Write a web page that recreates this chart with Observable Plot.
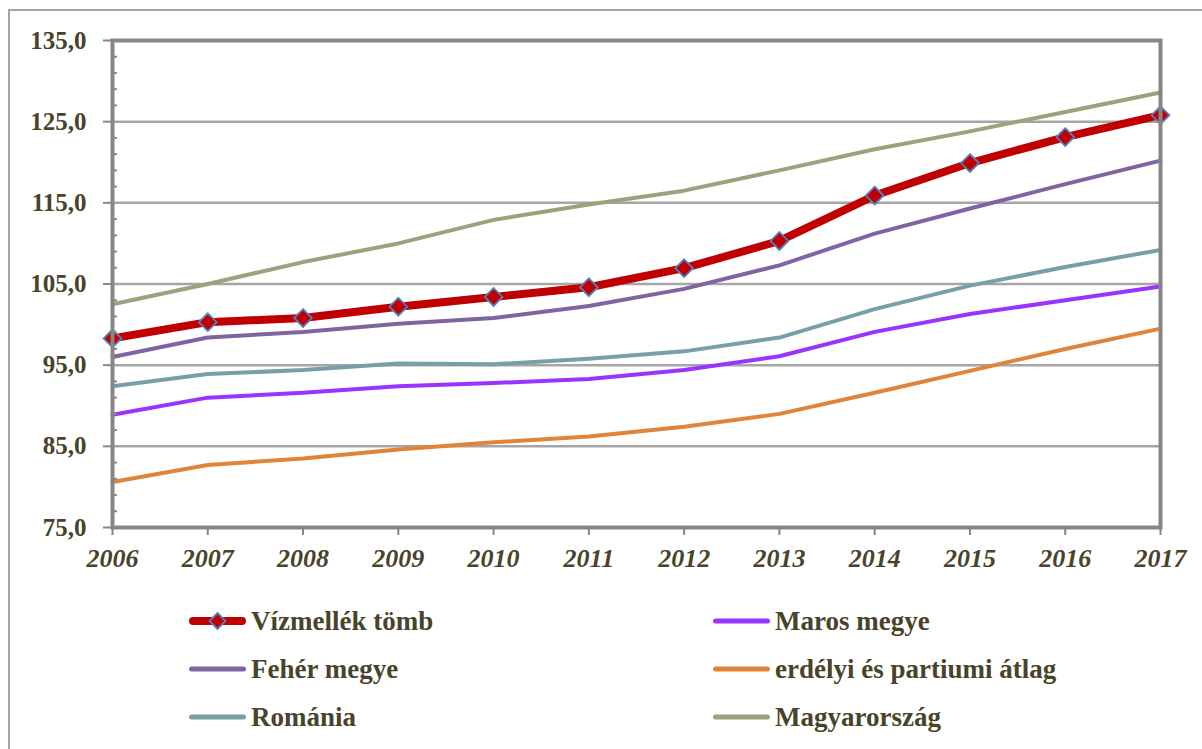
<!DOCTYPE html>
<html>
<head>
<meta charset="utf-8">
<script src="https://cdn.jsdelivr.net/npm/d3@7"></script>
<script src="https://cdn.jsdelivr.net/npm/@observablehq/plot@0.6"></script>
<style>
  html, body { margin: 0; padding: 0; background: #fff; }
  body { width: 1202px; height: 749px; overflow: hidden; position: relative; font-family: 'Liberation Serif'; }
  #outer { position: absolute; left: 8px; top: 9px; width: 1400px; height: 900px; border-left: 2px solid #a3a3a3; border-top: 2px solid #a3a3a3; pointer-events: none; }
  #chart svg { display: block; }
  #legend { position: absolute; left: 0; top: 580px; width: 1202px; }
  .item { position: absolute; height: 48px; display: flex; align-items: center; color: #494429; font-weight: bold; font-size: 27px; white-space: nowrap; font-family: 'Liberation Serif'; }
  .item svg { display: block; margin-right: 3px; }
</style>
</head>
<body>
<div id="chart"></div>
<div id="legend"></div>
<div id="outer"></div>
<script>
const years = [2006, 2007, 2008, 2009, 2010, 2011, 2012, 2013, 2014, 2015, 2016, 2017];
const seriesNames = ["Vízmellék tömb", "Maros megye", "Fehér megye", "erdélyi és partiumi átlag", "Románia", "Magyarország"];
const vizmellek = [98.3, 100.3, 100.8, 102.2, 103.4, 104.6, 106.95, 110.3, 115.9, 119.9, 123.1, 125.8];
const maros     = [88.9, 91.0, 91.6, 92.4, 92.8, 93.3, 94.4, 96.1, 99.1, 101.3, 103.0, 104.7];
const feher     = [96.0, 98.4, 99.1, 100.1, 100.8, 102.3, 104.4, 107.3, 111.2, 114.3, 117.3, 120.2];
const erdelyi   = [80.6, 82.7, 83.5, 84.6, 85.5, 86.2, 87.4, 89.0, 91.6, 94.3, 97.0, 99.5];
const romania   = [92.4, 93.9, 94.4, 95.2, 95.1, 95.8, 96.7, 98.4, 101.9, 104.8, 107.1, 109.2];
const magyar    = [102.5, 105.0, 107.7, 110.0, 112.9, 114.8, 116.5, 119.0, 121.6, 123.8, 126.2, 128.6];
const seriesColors = ["#C00000", "#9933FF", "#8064A2", "#E0843A", "#789FA7", "#98A47E"];
const yTicks = [75, 85, 95, 105, 115, 125, 135];
const yGrid = [85, 95, 105, 115, 125];
const yMinor = d3.range(75, 135.001, 2).filter(v => !yTicks.includes(v));

const valuesByName = {
  "Vízmellék tömb": vizmellek,
  "Maros megye": maros,
  "Fehér megye": feher,
  "erdélyi és partiumi átlag": erdelyi,
  "Románia": romania,
  "Magyarország": magyar
};
const rows = seriesNames.flatMap(name => years.map((year, i) => ({name, year, value: valuesByName[name][i]})));
const colorOf = Object.fromEntries(seriesNames.map((n, i) => [n, seriesColors[i]]));
const thinNames = ["Magyarország", "Románia", "erdélyi és partiumi átlag", "Maros megye", "Fehér megye"];
const redRows = rows.filter(d => d.name === "Vízmellék tömb");

const textColor = "#494429";
const axisGray = "#868686";
const serif = "Liberation Serif";

const marks = [
  Plot.ruleY(yGrid, {stroke: "#A6A6A6", strokeWidth: 2.5}),
  ...thinNames.map(n => Plot.line(rows.filter(d => d.name === n), {
    x: "year", y: "value", stroke: colorOf[n], strokeWidth: 4, curve: "linear"
  })),
  Plot.line(redRows, {x: "year", y: "value", stroke: colorOf["Vízmellék tömb"], strokeWidth: 8, strokeLinejoin: "round"}),
  Plot.dot(redRows, {x: "year", y: "value", symbol: "diamond2", r: 8, fill: "#C00000", stroke: "#4F81BD", strokeWidth: 1.8}),
  Plot.frame({stroke: axisGray, strokeWidth: 4}),
  Plot.axisY({ticks: yMinor, anchor: "left", tickSize: 5, dx: 5, fill: "none", tickFormat: () => "", stroke: axisGray, strokeWidth: 2, label: null}),
  Plot.axisY({ticks: yTicks, anchor: "left", tickSize: 9, tickPadding: 17, stroke: axisGray, strokeWidth: 2,
    tickFormat: d => d.toFixed(1).replace(".", ","), fill: textColor, fontFamily: serif, fontSize: 25, fontWeight: "bold", label: null}),
  Plot.axisX({ticks: years, anchor: "bottom", tickSize: 8, tickPadding: 13, stroke: axisGray, strokeWidth: 2,
    tickFormat: d => String(d), fill: textColor, fontFamily: serif, fontSize: 26, fontWeight: "bold", fontStyle: "italic", label: null})
];

const chart = Plot.plot({
  width: 1202,
  height: 580,
  marginLeft: 112,
  marginRight: 42,
  marginTop: 40,
  marginBottom: 53,
  style: {fontFamily: serif, background: "transparent", overflow: "visible"},
  x: {type: "linear", domain: [2006, 2017], axis: null},
  y: {type: "linear", domain: [75, 135], axis: null},
  marks
});
document.getElementById("chart").appendChild(chart);

// Legend (HTML, below the SVG)
const legendLayout = [
  {name: "Vízmellék tömb", col: 0, row: 0},
  {name: "Maros megye", col: 1, row: 0},
  {name: "Fehér megye", col: 0, row: 1},
  {name: "erdélyi és partiumi átlag", col: 1, row: 1},
  {name: "Románia", col: 0, row: 2},
  {name: "Magyarország", col: 1, row: 2}
];
const colX = [188, 712];
const legend = document.getElementById("legend");
for (const {name, col, row} of legendLayout) {
  const div = document.createElement("div");
  div.className = "item";
  div.style.left = colX[col] + "px";
  div.style.top = (17 + row * 48) + "px";
  div.style.fontFamily = serif;
  const isRed = name === "Vízmellék tömb";
  const sw = isRed ? 8 : 5;
  const svg = `<svg width="60" height="24" viewBox="0 0 60 24">
    <line x1="${sw/2 + 1}" y1="12" x2="${58 - sw/2}" y2="12" stroke="${colorOf[name]}" stroke-width="${sw}" stroke-linecap="round"/>
    ${isRed ? `<path d="M29.5,4 L37.5,12 L29.5,20 L21.5,12 Z" fill="#C00000" stroke="#4F81BD" stroke-width="1.8"/>` : ""}
  </svg>`;
  div.innerHTML = svg + `<span style="font-family:'Liberation Serif'">${name}</span>`;
  legend.appendChild(div);
}
</script>
</body>
</html>
